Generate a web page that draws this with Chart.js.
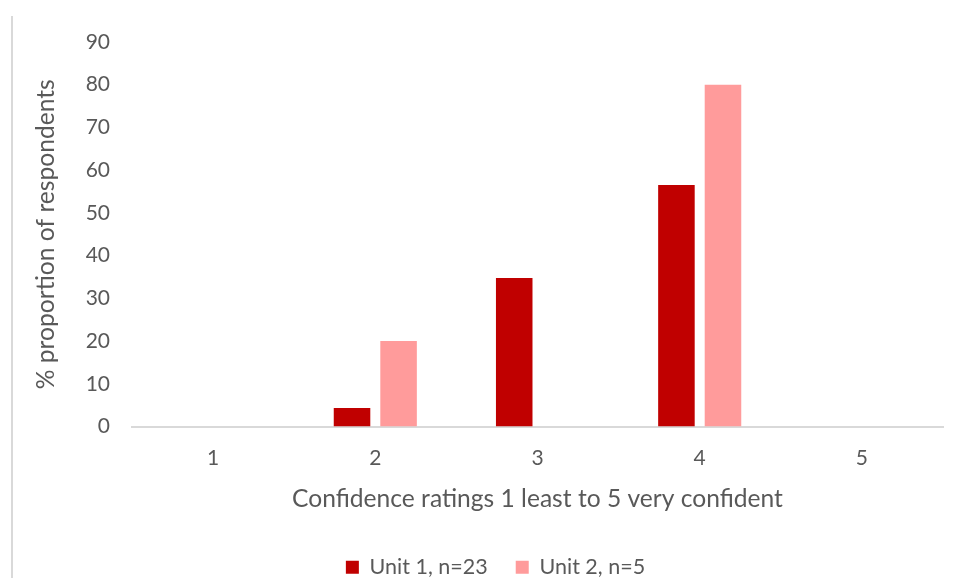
<!DOCTYPE html>
<html>
<head>
<meta charset="utf-8">
<script src="https://cdn.jsdelivr.net/npm/chart.js@4.4.1/dist/chart.umd.min.js"></script>
<style>
  html, body { margin: 0; padding: 0; background: #fff; overflow: hidden; }
  #wrap { position: relative; width: 957px; height: 578px; }
</style>
</head>
<body>
<div id="wrap"><canvas id="chart" width="957" height="578"></canvas></div>
<script>
// Confidence ratings (1 = least, 5 = very confident)
const categories = ['1', '2', '3', '4', '5'];
// Share of respondents per rating, in percent
const unit1Values = [0, 4.35, 34.78, 56.52, 0];   // Unit 1, n=23
const unit2Values = [0, 20, 0, 80, 0];            // Unit 2, n=5
const seriesNames = ['Unit 1, n=23', 'Unit 2, n=5'];
const yTicks = { min: 0, max: 90, step: 10 };

const FONT = 'Lato, "Open Sans", sans-serif';
const TEXT = '#595959';
const LEFT_PAD = 48;

// Thin left edge of the chart frame
const frameEdge = {
  id: 'frameEdge',
  beforeDraw(chart) {
    const ctx = chart.ctx;
    ctx.save();
    ctx.strokeStyle = '#d9d9d9';
    ctx.lineWidth = 2;
    ctx.beginPath();
    ctx.moveTo(12, 16);
    ctx.lineTo(12, 578);
    ctx.stroke();
    ctx.restore();
  }
};

new Chart(document.getElementById('chart'), {
  type: 'bar',
  data: {
    labels: categories,
    datasets: [
      { label: seriesNames[0], data: unit1Values, backgroundColor: '#C00000',
        categoryPercentage: 0.574, barPercentage: 0.785 },
      { label: seriesNames[1], data: unit2Values, backgroundColor: '#FF9B9B',
        categoryPercentage: 0.574, barPercentage: 0.785 }
    ]
  },
  options: {
    responsive: false,
    animation: false,
    layout: { padding: { top: 42, right: 14, bottom: -10, left: LEFT_PAD } },
    plugins: {
      tooltip: { enabled: false },
      legend: {
        position: 'bottom',
        labels: {
          color: TEXT,
          font: { family: FONT, size: 21.5 },
          boxWidth: 13,
          boxHeight: 13,
          padding: 28
        }
      }
    },
    scales: {
      x: {
        grid: { display: false, drawTicks: false },
        border: { display: true, color: '#d9d9d9', width: 2 },
        ticks: { color: TEXT, font: { family: FONT, size: 21 }, padding: 19 },
        title: {
          display: true,
          text: 'Confidence ratings 1 least to 5 very confident',
          color: TEXT,
          font: { family: FONT, size: 24.6 },
          padding: { top: 0, bottom: 15 }
        },
        afterFit(scale) { scale.height = 102; }
      },
      y: {
        min: yTicks.min,
        max: yTicks.max,
        grid: { display: false, drawTicks: false },
        border: { display: false },
        ticks: { stepSize: yTicks.step, color: TEXT, font: { family: FONT, size: 21 }, padding: 22 },
        title: {
          display: true,
          text: '% proportion of respondents',
          color: TEXT,
          font: { family: FONT, size: 24.6 },
          padding: { top: -17, bottom: 0 }
        },
        afterFit(scale) { scale.width = 132 - LEFT_PAD; }
      }
    }
  },
  plugins: [frameEdge]
});
</script>
</body>
</html>
